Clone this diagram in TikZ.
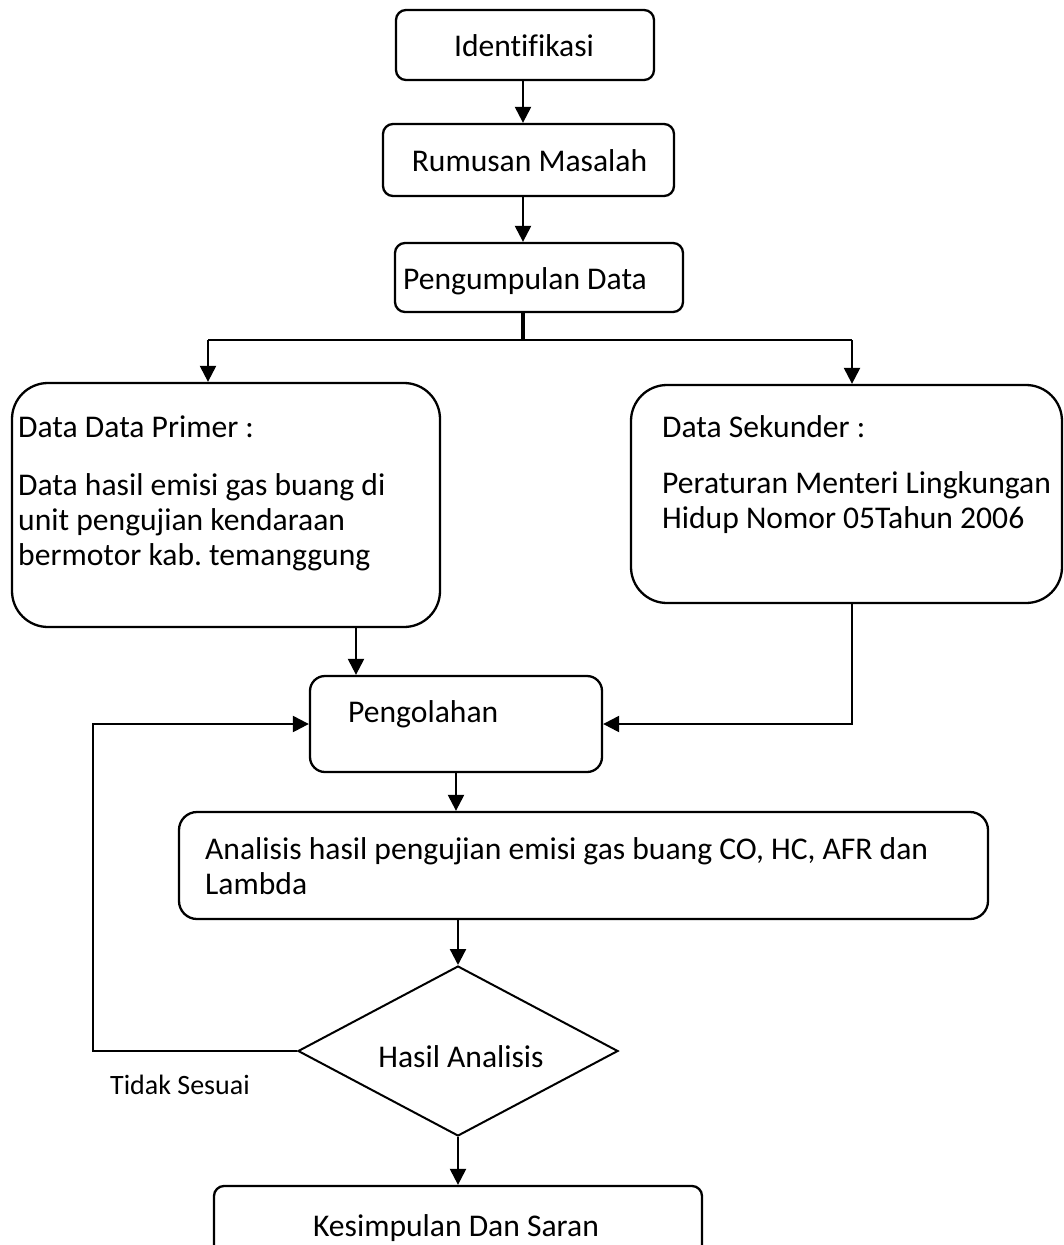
\documentclass[tikz,border=0pt]{standalone}
\usepackage{fontspec}
\setmainfont{Carlito}[Ligatures = NoCommon]
\frenchspacing
\usetikzlibrary{arrows.meta,shapes.geometric}
\tikzset{
    box/.style = {draw, line width = 2.3pt, inner sep = 0pt, rounded corners = #1},
    box/.default = 10pt,
    txt/.style = {inner sep = 0pt, font = \fontsize{31.6}{35}\selectfont},
    link/.style = {line width = 2.3pt, -{Triangle[width = 16pt, length = 16pt]}}
}
\begin{document}
\begin{tikzpicture}[x = 1pt, y = -1pt]
        \useasboundingbox (0, 0) rectangle (1063, 1245);
        \coordinate (mid) at (523, 0);
        \coordinate (busL) at (208, 340);
        \coordinate (busR) at (852, 340);
        \coordinate (pin) at (356, 0);

        \node[box, minimum width = 258pt, minimum height = 70pt] (ident) at (525, 45) {};
        \node[txt, anchor = base] (identtxt) at (524, 56) {Identifikasi};
        \node[box, minimum width = 291pt, minimum height = 72pt] (rumus) at (528.5, 160) {};
        \node[txt, anchor = base] (rumustxt) at (529.5, 171) {Rumusan Masalah};
        \node[box, minimum width = 288pt, minimum height = 69pt] (kumpul) at (539, 277.5) {};
        \node[txt, anchor = base west] (kumpultxt) at (403, 289) {Pengumpulan Data};

        \node[box = 36pt, minimum width = 428pt, minimum height = 244pt] (primer) at (226, 505) {};
        \node[txt, anchor = base west] (primerhd) at (18, 437) {Data Data Primer :};
        \node[txt, anchor = north west, align = left] (primertxt) at (18, 473) {Data hasil emisi gas buang di\\unit pengujian kendaraan\\bermotor kab. temanggung};
        \node[box = 36pt, minimum width = 431pt, minimum height = 218pt] (sek) at (846.5, 494) {};
        \node[txt, anchor = base west] (sekhd) at (662, 437) {Data Sekunder :};
        \node[txt, anchor = north west, align = left] (sektxt) at (662, 471) {Peraturan Menteri Lingkungan\\Hidup Nomor 05Tahun 2006};

        \node[box = 15pt, minimum width = 292pt, minimum height = 96pt] (olah) at (456, 724) {};
        \node[txt, anchor = base west] (olahtxt) at (348, 722) {Pengolahan};
        \node[box = 18pt, minimum width = 809pt, minimum height = 107pt] (anal) at (583.5, 865.5) {};
        \node[txt, anchor = north west, align = left] (analtxt) at (205, 837) {Analisis hasil pengujian emisi gas buang CO, HC, AFR dan\\Lambda};

        \node[draw, diamond, line width = 2pt, inner sep = 0pt, minimum width = 320pt, minimum height = 170pt] (dec) at (458, 1051) {};
        \node[txt, anchor = base] (dectxt) at (461, 1067) {Hasil Analisis};
        \node[txt, anchor = base west, font = \fontsize{28}{34}\selectfont] (tidak) at (110, 1094) {Tidak Sesuai};

        \node[box, minimum width = 488pt, minimum height = 80pt] (kesim) at (458, 1226) {};
        \node[txt, anchor = base] (kesimtxt) at (456, 1236) {Kesimpulan Dan Saran};

        \draw[link] (mid |- ident.south) -- (mid |- rumus.north);
        \draw[link] (mid |- rumus.south) -- (mid |- kumpul.north);
        \draw[line width = 4pt] (mid |- kumpul.south) -- (mid |- busL);
        \draw[line width = 2.3pt] (busL) -- (busR);
        \draw[link] (busL) -- (busL |- primer.north);
        \draw[link] (busR) -- (busR |- sek.north);
        \draw[link] (pin |- primer.south) -- (pin |- olah.north);
        \draw[link] (busR |- sek.south) |- (olah.east);
        \draw[link] (olah.south) -- (olah.south |- anal.north);
        \draw[link] (dec.north |- anal.south) -- (dec.north);
        \draw[link] (dec.south) -- (kesim.north);
        \draw[link] (dec.west) -- ++(-204, 0) |- (olah.west);
    \end{tikzpicture}
\end{document}
